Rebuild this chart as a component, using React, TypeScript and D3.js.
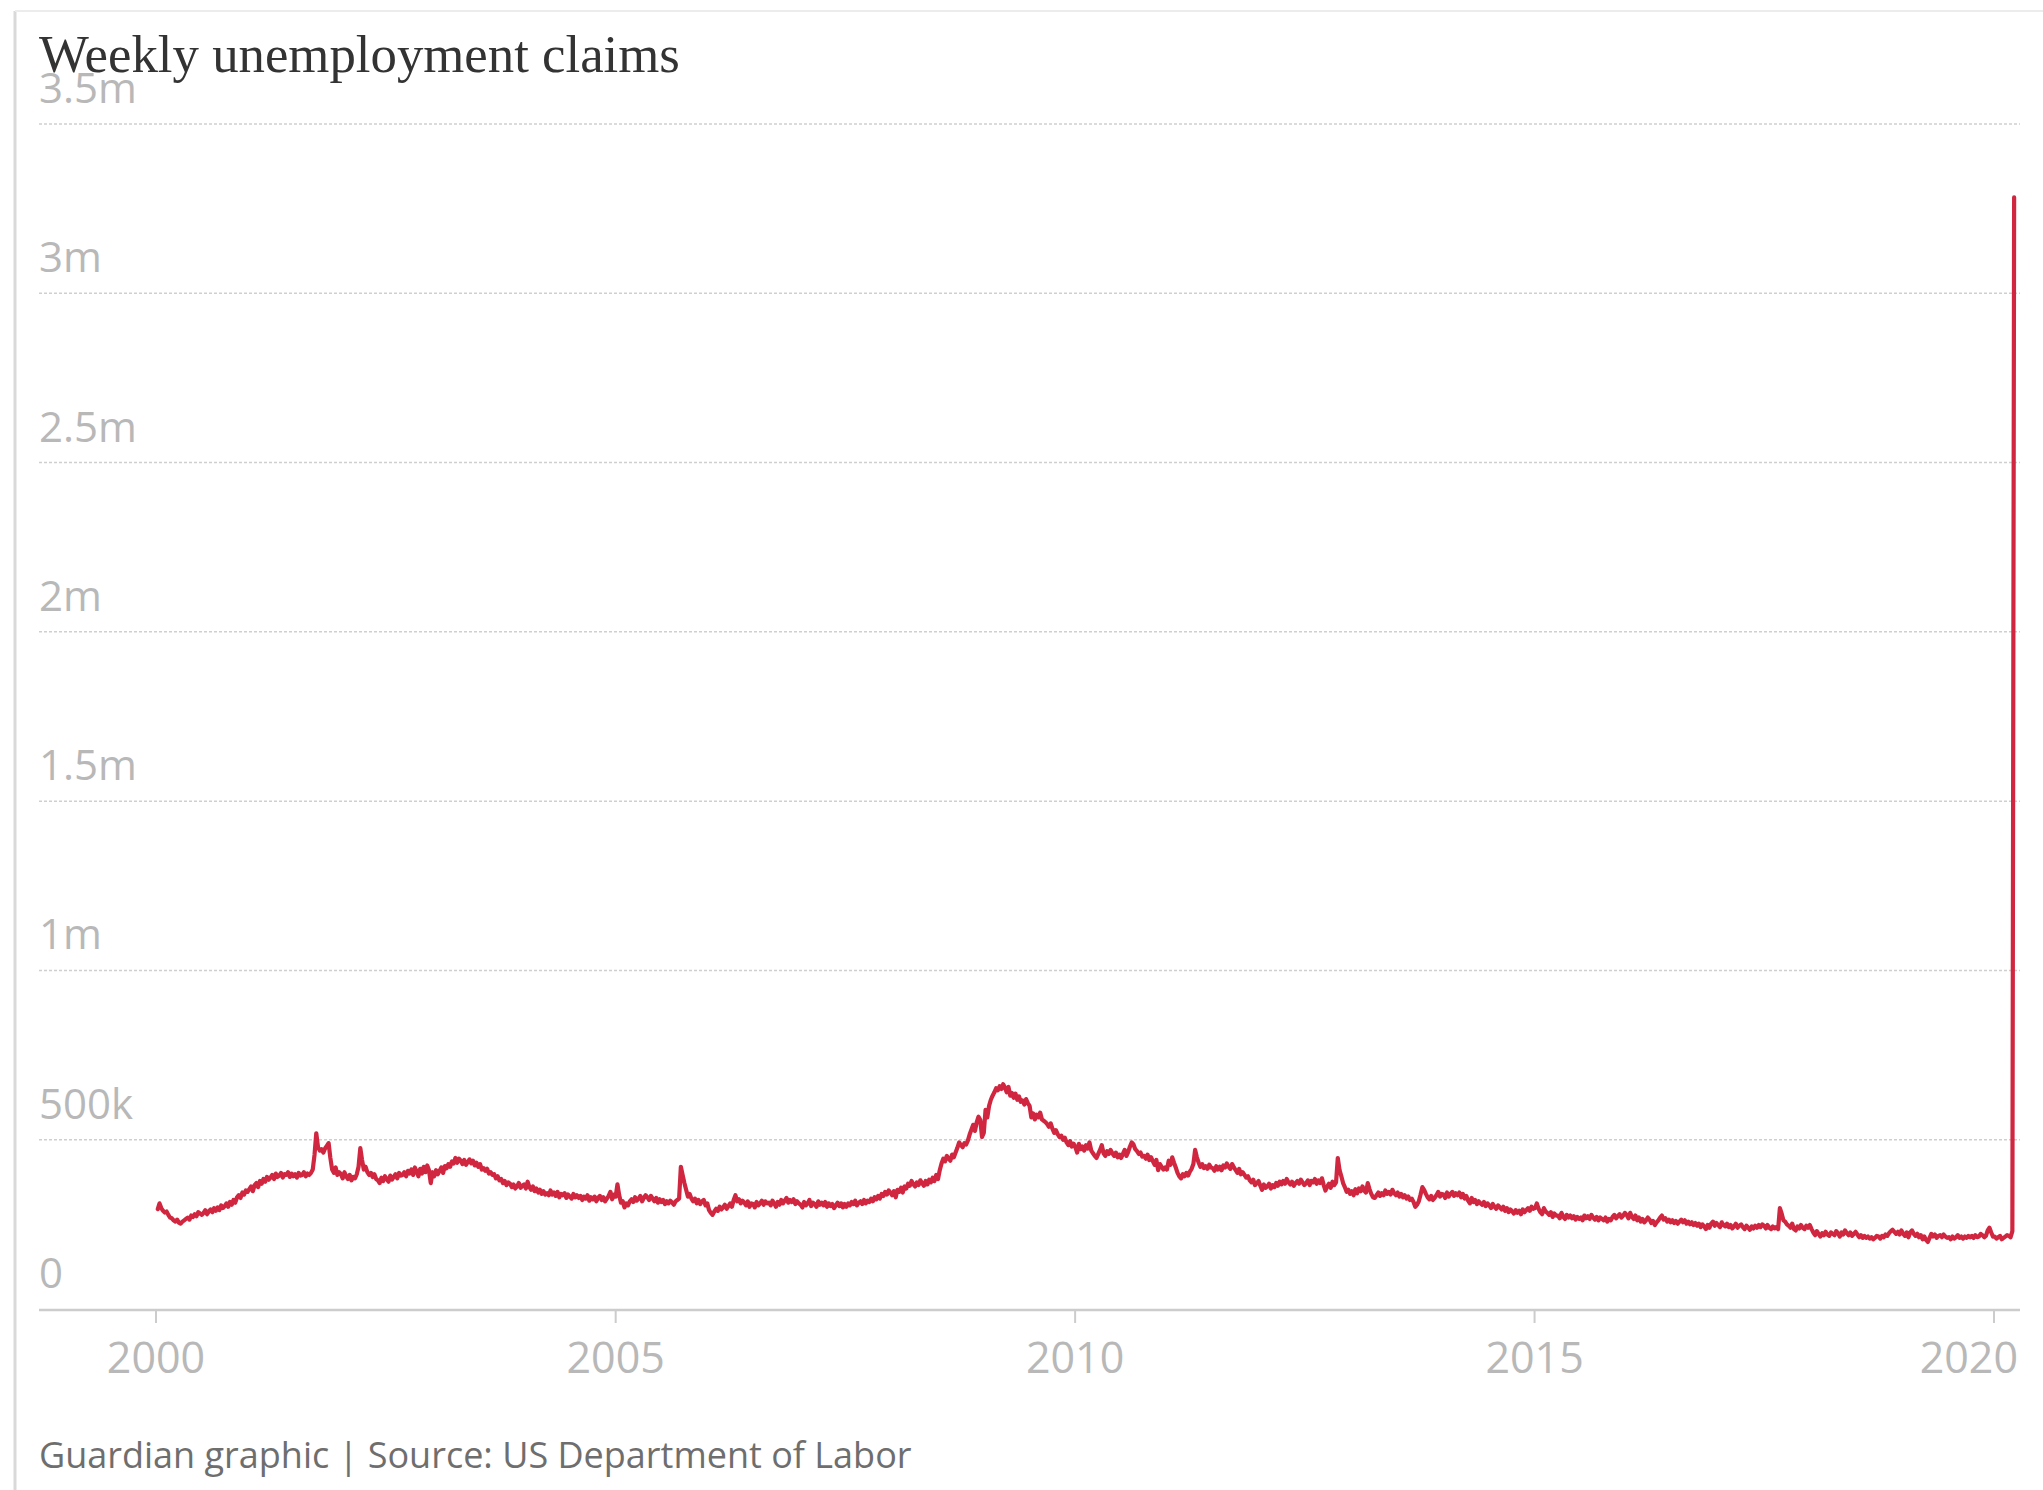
import React from "react";
import * as d3 from "d3";

// ---- Data (weekly initial unemployment claims, thousands; weeks ending Saturday from 2000-01-08) ----
const seriesStart = "2000-01-08";

const claims2000 = [295, 312, 298, 290, 285, 288, 278, 270, 268, 262, 258, 264, 255, 252, 258, 262, 266, 270, 264, 276, 272, 280, 274, 286, 282, 278, 284, 292, 280, 288, 294, 286, 298, 290, 300, 292, 306, 298, 304, 312, 302, 316, 308, 322, 314, 330, 336, 328, 344, 338, 350, 346];
const claims2001 = [354, 362, 348, 366, 372, 360, 378, 370, 384, 376, 390, 382, 388, 396, 384, 400, 390, 394, 402, 388, 398, 396, 404, 390, 400, 392, 398, 388, 402, 394, 396, 404, 392, 400, 396, 402, 412, 455, 519, 478, 468, 472, 462, 474, 482, 490, 446, 412, 402, 418, 396, 404];
const claims2002 = [398, 386, 404, 392, 384, 396, 380, 390, 386, 398, 420, 475, 440, 412, 420, 404, 396, 402, 390, 398, 384, 380, 372, 388, 378, 392, 384, 376, 394, 382, 390, 398, 386, 402, 394, 396, 404, 392, 408, 400, 412, 396, 418, 406, 392, 414, 400, 420, 404, 424, 410, 372];
const claims2003 = [404, 392, 410, 398, 408, 418, 402, 422, 416, 428, 420, 436, 430, 446, 432, 444, 438, 428, 440, 426, 434, 442, 430, 438, 424, 432, 420, 428, 412, 416, 408, 414, 400, 404, 396, 398, 386, 392, 380, 384, 372, 378, 366, 374, 370, 360, 368, 356, 362, 372, 358, 364];
const claims2004 = [368, 356, 376, 360, 352, 362, 348, 356, 344, 352, 340, 348, 338, 342, 336, 350, 338, 344, 334, 346, 330, 340, 336, 342, 328, 338, 332, 326, 340, 330, 336, 328, 334, 322, 332, 326, 336, 320, 330, 324, 332, 318, 328, 334, 322, 330, 318, 326, 334, 346, 324, 338];
const claims2005 = [332, 368, 336, 314, 318, 300, 312, 306, 318, 324, 316, 330, 320, 326, 334, 318, 328, 336, 330, 322, 334, 326, 318, 328, 314, 324, 316, 322, 310, 318, 312, 320, 314, 308, 318, 322, 326, 420, 396, 372, 352, 332, 340, 326, 318, 326, 312, 322, 310, 318, 322, 306, 312];
const claims2006 = [292, 284, 278, 288, 296, 290, 302, 294, 300, 308, 296, 304, 312, 302, 322, 336, 318, 324, 312, 320, 314, 306, 318, 302, 312, 310, 300, 316, 306, 312, 320, 308, 318, 312, 314, 306, 320, 312, 302, 316, 308, 322, 312, 320, 328, 314, 322, 316, 324, 310, 318, 312];
const claims2007 = [308, 300, 316, 306, 312, 322, 304, 314, 310, 302, 318, 308, 314, 306, 316, 302, 312, 304, 310, 298, 306, 314, 304, 312, 300, 310, 302, 312, 306, 316, 310, 320, 306, 314, 318, 310, 322, 312, 320, 316, 326, 318, 330, 324, 334, 326, 340, 334, 346, 338, 350, 344];
const claims2008 = [336, 348, 330, 352, 346, 358, 344, 362, 356, 370, 364, 378, 368, 362, 374, 366, 380, 372, 364, 378, 368, 382, 374, 388, 378, 396, 384, 410, 430, 444, 436, 452, 444, 438, 456, 448, 462, 476, 492, 484, 478, 490, 486, 498, 516, 530, 544, 526, 552, 568, 558, 508];
const claims2009 = [520, 588, 566, 600, 618, 630, 640, 652, 646, 658, 650, 664, 654, 640, 656, 630, 638, 624, 636, 618, 628, 612, 616, 604, 620, 608, 600, 566, 578, 560, 574, 566, 580, 560, 556, 552, 546, 538, 548, 532, 520, 528, 516, 508, 512, 500, 506, 492, 484, 496, 480, 488];
const claims2010 = [478, 462, 488, 472, 480, 468, 484, 474, 492, 468, 460, 452, 446, 458, 470, 484, 460, 452, 466, 458, 470, 460, 452, 462, 448, 456, 446, 458, 470, 452, 464, 480, 492, 486, 472, 466, 458, 462, 450, 452, 444, 456, 440, 448, 436, 426, 440, 410, 428, 420, 412, 418];
const claims2011 = [412, 438, 426, 448, 432, 418, 402, 392, 386, 398, 392, 402, 394, 406, 414, 428, 470, 448, 432, 420, 428, 416, 422, 414, 426, 418, 416, 408, 422, 412, 420, 410, 424, 418, 430, 420, 414, 428, 418, 410, 402, 414, 398, 404, 396, 388, 392, 380, 374, 382, 366, 372, 378];
const claims2012 = [364, 352, 368, 358, 362, 370, 356, 366, 360, 372, 364, 376, 368, 378, 370, 384, 374, 368, 376, 364, 372, 378, 370, 382, 374, 366, 372, 380, 366, 378, 374, 384, 370, 380, 372, 386, 366, 350, 362, 370, 358, 376, 366, 374, 446, 410, 392, 372, 360, 346, 352, 340];
const claims2013 = [348, 336, 354, 342, 356, 348, 362, 350, 344, 372, 354, 340, 330, 328, 336, 344, 334, 342, 336, 350, 340, 346, 338, 352, 342, 336, 344, 332, 340, 330, 336, 326, 332, 322, 326, 316, 302, 308, 318, 338, 360, 352, 340, 330, 324, 334, 322, 328, 336, 346, 332, 340];
const claims2014 = [338, 328, 344, 332, 340, 346, 334, 342, 336, 344, 330, 340, 326, 334, 320, 312, 328, 316, 322, 310, 318, 312, 308, 316, 304, 312, 306, 298, 310, 302, 296, 306, 300, 294, 302, 290, 298, 286, 294, 288, 282, 292, 284, 290, 280, 294, 286, 292, 298, 290, 302, 296];
const claims2015 = [298, 312, 296, 286, 280, 298, 288, 284, 278, 286, 272, 282, 276, 276, 268, 284, 272, 266, 278, 270, 276, 268, 274, 264, 272, 266, 270, 262, 276, 268, 274, 266, 278, 270, 264, 272, 262, 270, 266, 262, 270, 258, 266, 262, 272, 278, 268, 274, 280, 270, 276, 284];
const claims2016 = [278, 268, 284, 272, 266, 276, 262, 270, 258, 266, 256, 262, 270, 264, 254, 260, 248, 256, 262, 270, 276, 264, 268, 258, 264, 256, 262, 254, 260, 252, 258, 264, 256, 262, 252, 258, 250, 256, 248, 254, 246, 252, 242, 250, 244, 236, 248, 240, 252, 258, 246, 254, 248];
const claims2017 = [242, 256, 248, 244, 252, 242, 248, 238, 244, 252, 240, 246, 250, 242, 236, 246, 240, 234, 244, 238, 246, 240, 248, 242, 250, 246, 238, 248, 240, 236, 244, 238, 242, 236, 298, 282, 262, 258, 250, 246, 240, 252, 236, 232, 244, 238, 248, 240, 236, 246, 240, 248];
const claims2018 = [236, 226, 218, 230, 222, 214, 224, 218, 228, 220, 216, 226, 222, 218, 230, 224, 214, 226, 220, 232, 224, 218, 226, 216, 222, 228, 220, 212, 218, 210, 216, 210, 214, 208, 212, 206, 210, 216, 214, 208, 216, 212, 220, 216, 224, 230, 234, 228, 222, 228, 220, 232];
const claims2019 = [222, 216, 226, 212, 226, 232, 222, 216, 222, 212, 218, 206, 214, 204, 198, 210, 222, 214, 220, 210, 216, 218, 212, 220, 214, 210, 212, 206, 214, 208, 212, 218, 210, 214, 208, 214, 210, 216, 212, 216, 210, 218, 212, 214, 222, 218, 212, 216, 232, 240, 226, 214];
const claims2020 = [214, 208, 212, 216, 206, 210, 214, 218, 216, 212, 230, 3283];

const yTicks = [0, 500000, 1000000, 1500000, 2000000, 2500000, 3000000, 3500000];
const yTickLabels = ["0", "500k", "1m", "1.5m", "2m", "2.5m", "3m", "3.5m"];
const xTickYears = [2000, 2005, 2010, 2015, 2020];

const titleText = "Weekly unemployment claims";
const sourceText = "Guardian graphic | Source: US Department of Labor";

// ---- Layout ----
const W = 2043;
const H = 1490;
const plotLeft = 39;
const plotRight = 2020;
const yTop = 124;
const yBottom = 1309;

const LINE_COLOR = "#d0263f";
const TICK_COLOR = "#b8b8b8";
const SANS = "'Open Sans', 'Noto Sans', sans-serif";

export default function App() {
  const allValues = [
    ...claims2000, ...claims2001, ...claims2002, ...claims2003, ...claims2004,
    ...claims2005, ...claims2006, ...claims2007, ...claims2008, ...claims2009,
    ...claims2010, ...claims2011, ...claims2012, ...claims2013, ...claims2014,
    ...claims2015, ...claims2016, ...claims2017, ...claims2018, ...claims2019,
    ...claims2020,
  ];
  const start = d3.utcParse("%Y-%m-%d")(seriesStart) as Date;
  const data = allValues.map((v, i) => ({
    date: d3.utcDay.offset(start, i * 7),
    value: v * 1000,
  }));

  const x = d3
    .scaleUtc()
    .domain([new Date(Date.UTC(2000, 0, 1)), new Date(Date.UTC(2020, 0, 1))])
    .range([156, 1994]);
  const y = d3.scaleLinear().domain([0, 3500000]).range([yBottom, yTop]);

  const line = d3
    .line<{ date: Date; value: number }>()
    .x((d) => x(d.date))
    .y((d) => y(d.value));

  return (
    <svg
      width={W}
      height={H}
      viewBox={`0 0 ${W} ${H}`}
      style={{ position: "absolute", left: 0, top: 0, background: "#fff" }}
    >
      <rect x={0} y={0} width={W} height={H} fill="#fff" />
      {/* card edges */}
      <line x1={15} y1={11} x2={15} y2={H} stroke="#d9d9d9" strokeWidth={3} />
      <line x1={15} y1={11} x2={W} y2={11} stroke="#ececec" strokeWidth={2} />

      {/* gridlines */}
      {yTicks.slice(1).map((t) => (
        <line
          key={"g" + t}
          x1={plotLeft}
          x2={plotRight}
          y1={y(t)}
          y2={y(t)}
          stroke="#cfcfcf"
          strokeWidth={1.5}
          strokeDasharray="3,2"
        />
      ))}

      {/* y labels */}
      {yTicks.map((t, i) => (
        <text
          key={"yl" + t}
          x={plotLeft}
          y={y(t) - 21}
          fontFamily={SANS}
          fontSize={42}
          fill={TICK_COLOR}
        >
          {yTickLabels[i]}
        </text>
      ))}

      {/* x axis */}
      <line x1={plotLeft} x2={plotRight} y1={yBottom + 1} y2={yBottom + 1} stroke="#cccccc" strokeWidth={2.5} />
      {xTickYears.map((yr, i) => {
        const px = x(new Date(Date.UTC(yr, 0, 1)));
        const last = i === xTickYears.length - 1;
        return (
          <g key={"xt" + yr}>
            <line x1={px} x2={px} y1={yBottom + 1} y2={yBottom + 14} stroke="#cccccc" strokeWidth={2} />
            <text
              x={last ? plotRight - 2 : px}
              y={yBottom + 64}
              textAnchor={last ? "end" : "middle"}
              fontFamily={SANS}
              fontSize={43}
              fill={TICK_COLOR}
            >
              {yr}
            </text>
          </g>
        );
      })}

      {/* series */}
      <path
        d={line(data) || ""}
        fill="none"
        stroke={LINE_COLOR}
        strokeWidth={4.2}
        strokeLinejoin="round"
        strokeLinecap="round"
      />

      {/* title */}
      <text x={39} y={72} fontFamily="'Liberation Serif', 'DejaVu Serif', serif" fontSize={52.8} fill="#333">
        {titleText}
      </text>

      {/* source */}
      <text x={39} y={1468} fontFamily={SANS} fontSize={36} fill="#6e6e6e">
        {sourceText}
      </text>
    </svg>
  );
}
